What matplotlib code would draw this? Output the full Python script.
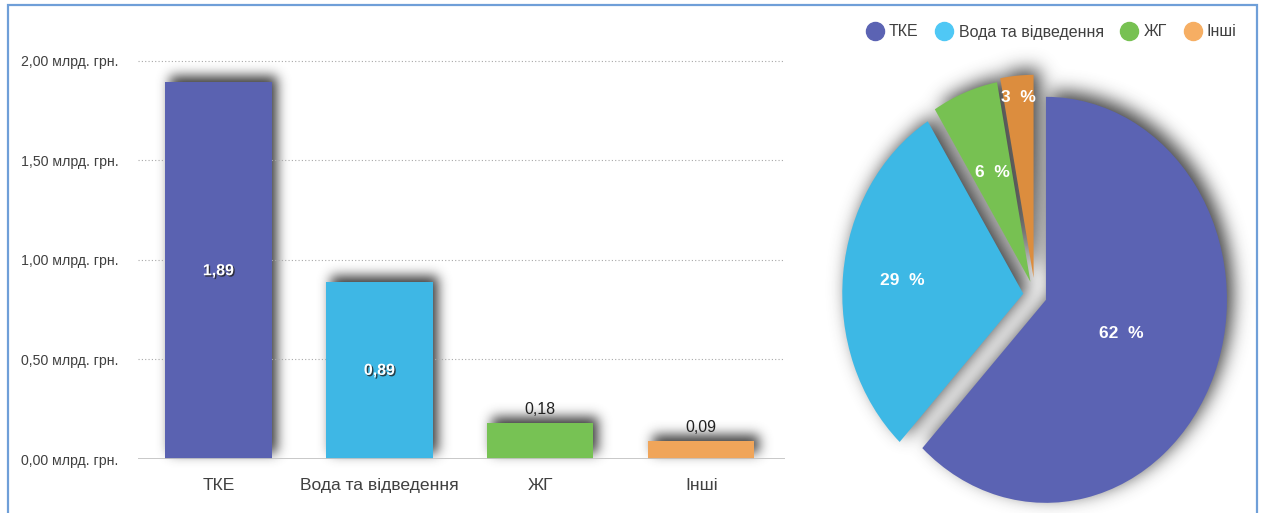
import numpy as np
import matplotlib
matplotlib.use("Agg")
import matplotlib.pyplot as plt
import matplotlib.patheffects as pe
from matplotlib.lines import Line2D
from matplotlib.patches import Rectangle

categories = ["ТКЕ", "Вода та відведення", "ЖГ", "Інші"]
values = [1.89, 0.89, 0.18, 0.09]          # млрд. грн.
yticks = [0.0, 0.5, 1.0, 1.5, 2.0]

bar_colors = ["#5a62b1", "#3eb7e5", "#77c254", "#f0a55a"]
pie_colors = ["#5b63b3", "#3db8e5", "#77c152", "#dc8d3e"]
legend_colors = ["#5b63b3", "#4fc8f5", "#77c152", "#f6ae63"]
explode = [0.065, 0.065, 0.07, 0.085]
label_dist = [0.45, 0.67, 0.58, 0.89]

plt.rcParams["font.family"] = ["Liberation Sans", "DejaVu Sans"]
TXT = "#404040"

W, H, DPI = 1262, 513, 100
fig = plt.figure(figsize=(W / DPI, H / DPI), dpi=DPI)
fig.patch.set_facecolor("white")


def px_axes(x0, y0, x1, y1):
    # axes box in pixels, measured from the top-left corner
    return fig.add_axes([x0 / W, 1 - y1 / H, (x1 - x0) / W, (y1 - y0) / H])


# ---- bar chart ----
ax = px_axes(138, 40, 785, 459)
ax.patch.set_visible(False)
x = np.arange(len(categories))
bars = ax.bar(x, values, width=0.66, color=bar_colors, zorder=3)
ax.set_xlim(-0.5, 3.52)
ax.set_ylim(0, 2.103)
ax.set_yticks(yticks)
ax.set_yticklabels([f"{v:.2f}".replace(".", ",") + " млрд. грн." for v in yticks],
                   fontsize=10.2, color=TXT)
ax.set_xticks(x)
ax.set_xticklabels(categories, fontsize=12.6, color=TXT)
ax.tick_params(length=0)
ax.tick_params(axis="y", pad=14)
ax.tick_params(axis="x", pad=14)
for s in ax.spines.values():
    s.set_visible(False)
ax.yaxis.grid(True, linestyle=(0, (1, 2)), color="#a8a8a8", lw=0.8, zorder=0)
ax.axhline(0, color="#c4c4c4", lw=1.3, zorder=4)

for xi, v in zip(x, values):
    s = f"{v:.2f}".replace(".", ",")
    if v > 0.5:
        ax.text(xi, v / 2, s, ha="center", va="center", color="white", fontsize=11.5,
                fontweight="bold", zorder=5,
                path_effects=[pe.withSimplePatchShadow(offset=(1, -1), shadow_rgbFace="#222222", alpha=0.8)])
    else:
        ax.text(xi, v + 0.03, s, ha="center", va="bottom", color="#222222", fontsize=11.5, zorder=5)

# ---- pie chart ----
cx, cy, rx, ry = 1035, 295, 181, 203        # centre and radii in pixels
pax = px_axes(830, 50, 1255, 513)
wedges, _ = pax.pie(values, colors=pie_colors, startangle=90, counterclock=False,
                    explode=explode, radius=1)
pax.set_aspect("auto")
pax.set_xlim((830 - cx) / rx, (1255 - cx) / rx)
pax.set_ylim((cy - 513) / ry, (cy - 50) / ry)

total = sum(values)
for w, v, d in zip(wedges, values, label_dist):
    ang = np.deg2rad((w.theta1 + w.theta2) / 2)
    px_, py_ = w.center
    pax.text(px_ + d * np.cos(ang), py_ + d * np.sin(ang), f"{round(v / total * 100)}  %",
             ha="center", va="center", color="white", fontsize=12.5, fontweight="bold", zorder=5)

fig.legend([Line2D([], [], ls="", marker="o", markersize=13, mfc=c, mec=c) for c in legend_colors],
           categories, loc="center right", bbox_to_anchor=(1251 / W, 1 - 32 / H), ncol=4,
           frameon=False, fontsize=11.5, labelcolor=TXT, handletextpad=0.3,
           columnspacing=1.0, handlelength=1.2)

# ---- soft drop shadows rendered as a figure image ----
yy, xx = np.mgrid[0:H, 0:W] + 0.5
pts = np.column_stack([xx.ravel(), yy.ravel()])


def shape_mask(patches, dx, dy):
    m = np.zeros(H * W)
    for p in patches:
        inside = p.get_path().contains_points(pts - [dx, dy], transform=p.get_transform())
        m = np.maximum(m, inside)
    return m.reshape(H, W)


def blur(a, sigma):
    r = int(3 * sigma)
    k = np.exp(-0.5 * (np.arange(-r, r + 1) / sigma) ** 2)
    k /= k.sum()
    a = np.apply_along_axis(lambda m: np.convolve(m, k, mode="same"), 0, a)
    return np.apply_along_axis(lambda m: np.convolve(m, k, mode="same"), 1, a)


shadow = np.maximum(blur(shape_mask(bars, 5, 6), 6) * 1.0,
                    blur(shape_mask(wedges, 6, 6), 9) * 0.95)
rgba = np.zeros((H, W, 4))
rgba[..., :3] = 0.22
rgba[..., 3] = np.clip(shadow, 0, 1)
fig.figimage(rgba, xo=0, yo=0, origin="lower", zorder=-1)

# outer frame
fig.patches.append(Rectangle((8 / W, -0.05), 1249 / W, 1.05 - 5 / H, transform=fig.transFigure,
                             fill=False, ec="#6f9fd8", lw=1.6, zorder=10))

fig.savefig("out.png", dpi=DPI)
